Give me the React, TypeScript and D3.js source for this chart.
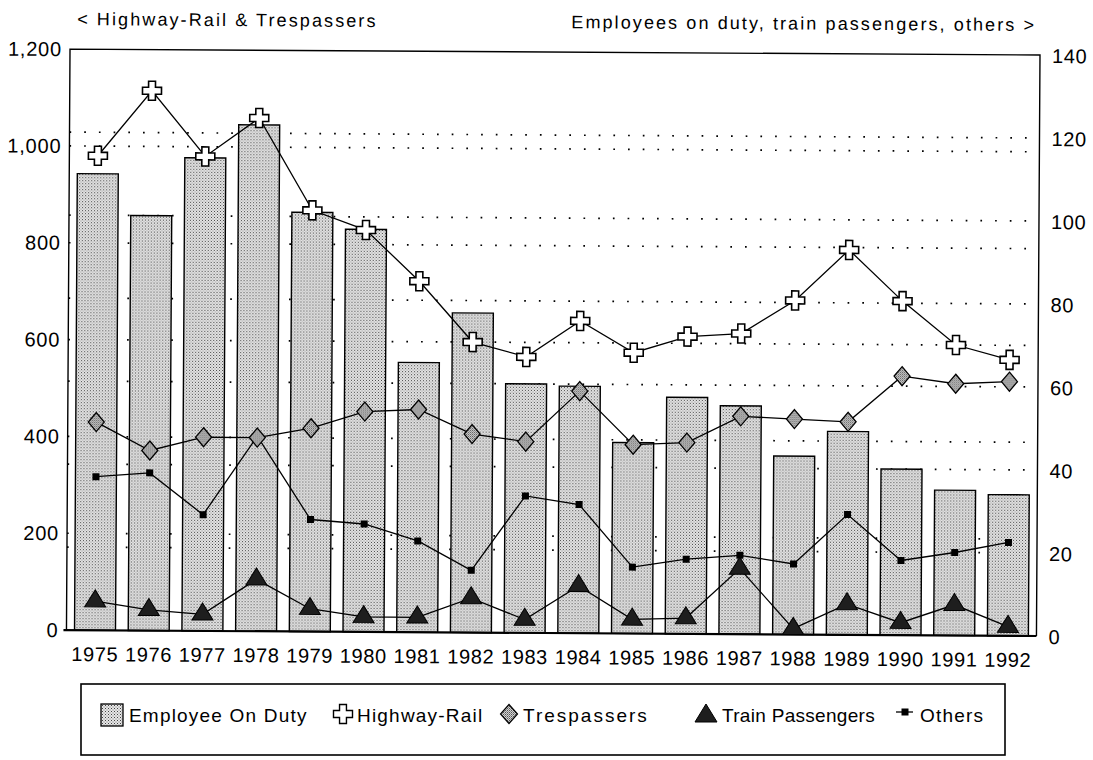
import * as d3 from "d3";

const years = ["1975", "1976", "1977", "1978", "1979", "1980", "1981", "1982", "1983", "1984", "1985", "1986", "1987", "1988", "1989", "1990", "1991", "1992"];
const employeeOnDuty = [110, 100, 114, 122, 101, 97, 65, 77, 60, 59.5, 46, 57, 55, 43, 49, 40, 35, 34];
const highwayRail = [980, 1115, 980, 1060, 870, 830, 725, 600, 570, 645, 580, 614, 621, 690, 795, 690, 600, 570];
const trespassers = [430, 372, 400, 400, 420, 455, 460, 410, 395, 500, 390, 395, 450, 445, 440, 535, 520, 525];
const trainPassengers = [7, 5, 4, 12.5, 5.5, 3.6, 3.6, 8.3, 3.2, 11.4, 3.4, 3.8, 15.8, 1.4, 7.4, 3, 7.4, 2.2];
const others = [37, 38, 28, 47, 27, 26, 22, 15, 33, 31, 16, 18, 19, 17, 29, 18, 20, 22.5];
const leftTicks = [0, 200, 400, 600, 800, 1000, 1200];
const rightTicks = [0, 20, 40, 60, 80, 100, 120, 140];

const FONT = "'Liberation Sans', Arial, sans-serif";
const left = 68, right = 1038, top = 52, bottom = 633;

const crossPath = (s: number) => {
  const a = s / 2, b = s / 5.5;
  return `M${-b},${-a}H${b}V${-b}H${a}V${b}H${b}V${a}H${-b}V${b}H${-a}V${-b}H${-b}Z`;
};
const diamondPath = (w: number, h: number) => `M0,${-h / 2}L${w / 2},0L0,${h / 2}L${-w / 2},0Z`;
const trianglePath = (w: number, h: number) => `M0,${(-2 * h) / 3}L${w / 2},${h / 3}L${-w / 2},${h / 3}Z`;

export default function App() {
  const x = d3.scaleBand<string>().domain(years).range([left, right]).paddingInner(0.237).paddingOuter(0.15);
  const yL = d3.scaleLinear().domain([0, 1200]).range([bottom, top]);
  const yR = d3.scaleLinear().domain([0, 140]).range([bottom, top]);
  const cx = (d: string) => (x(d) ?? 0) + x.bandwidth() / 2;

  const lineL = d3.line<number>().x((_, i) => cx(years[i])).y((d) => yL(d));
  const lineR = d3.line<number>().x((_, i) => cx(years[i])).y((d) => yR(d));

  const gridL = leftTicks.filter((t) => t > 0 && t < 1200);
  const gridR = rightTicks.filter((t) => t > 0 && t < 140);

  return (
    <svg width={1093} height={760} style={{ display: "block", position: "absolute", left: 0, top: 0, background: "#fff" }} fontFamily={FONT}>
      <defs>
        <pattern id="stip" width="3" height="3" patternUnits="userSpaceOnUse">
          <rect width="3" height="3" fill="#e6e6e6" />
          <rect x="0" y="0" width="1" height="1" fill="#444" />
          <rect x="1.5" y="1.5" width="1" height="1" fill="#777" />
        </pattern>
        <pattern id="stipDark" width="2" height="2" patternUnits="userSpaceOnUse">
          <rect width="2" height="2" fill="#d2d2d2" />
          <rect x="0" y="0" width="1" height="1" fill="#555" />
          <rect x="1" y="1" width="1" height="1" fill="#888" />
        </pattern>
      </defs>

      <g transform="rotate(0.35 546 380)">
        {/* titles */}
        <text x={75} y={28} fontSize={18} letterSpacing={2.1}>{"< Highway-Rail & Trespassers"}</text>
        <text x={1034} y={28} fontSize={18} letterSpacing={2.1} textAnchor="end">{"Employees on duty, train passengers, others >"}</text>

        {/* grid */}
        {gridL.map((t) => (
          <line key={"gl" + t} x1={left} x2={right} y1={yL(t)} y2={yL(t)} stroke="#000" strokeWidth={1.7} strokeDasharray="1.7,13" />
        ))}
        {gridR.map((t) => (
          <line key={"gr" + t} x1={left} x2={right} y1={yR(t)} y2={yR(t)} stroke="#000" strokeWidth={1.7} strokeDasharray="1.7,13" />
        ))}

        {/* bars */}
        {employeeOnDuty.map((v, i) => (
          <rect key={"b" + i} x={x(years[i])} y={yR(v)} width={x.bandwidth()} height={bottom - yR(v)} fill="url(#stip)" stroke="#000" strokeWidth={1.4} />
        ))}

        {/* frame */}
        <path d={`M${left},${bottom}V${top}H${right}V${bottom}`} fill="none" stroke="#000" strokeWidth={1.4} />
        <line x1={left - 3} x2={right} y1={bottom} y2={bottom} stroke="#000" strokeWidth={2.2} />

        {/* others */}
        <path d={lineR(others) ?? ""} fill="none" stroke="#000" strokeWidth={1.3} />
        {others.map((v, i) => (
          <rect key={"o" + i} x={cx(years[i]) - 3.5} y={yR(v) - 3.5} width={7} height={7} fill="#000" />
        ))}

        {/* train passengers */}
        <path d={lineR(trainPassengers) ?? ""} fill="none" stroke="#000" strokeWidth={1.3} />
        {trainPassengers.map((v, i) => (
          <path key={"t" + i} d={trianglePath(21, 17)} transform={`translate(${cx(years[i])},${yR(v)})`} fill="#1e1e1e" stroke="#000" strokeWidth={1} />
        ))}

        {/* trespassers */}
        <path d={lineL(trespassers) ?? ""} fill="none" stroke="#000" strokeWidth={1.3} />
        {trespassers.map((v, i) => (
          <path key={"d" + i} d={diamondPath(16, 19)} transform={`translate(${cx(years[i])},${yL(v)})`} fill="url(#stipDark)" stroke="#000" strokeWidth={1.3} />
        ))}

        {/* highway-rail */}
        <path d={lineL(highwayRail) ?? ""} fill="none" stroke="#000" strokeWidth={1.3} />
        {highwayRail.map((v, i) => (
          <path key={"h" + i} d={crossPath(19)} transform={`translate(${cx(years[i])},${yL(v)})`} fill="#fff" stroke="#000" strokeWidth={1.6} />
        ))}

        {/* left axis */}
        {leftTicks.map((t) => (
          <text key={"lt" + t} x={60} y={yL(t)} dy="0.35em" fontSize={20} letterSpacing={0.8} textAnchor="end">
            {d3.format(",")(t)}
          </text>
        ))}
        {/* right axis */}
        {rightTicks.map((t) => (
          <text key={"rt" + t} x={1050} y={yR(t)} dy="0.4em" fontSize={20} letterSpacing={0.6}>
            {t}
          </text>
        ))}
        {/* x labels */}
        {years.map((d) => (
          <text key={"x" + d} x={cx(d)} y={664} fontSize={20} letterSpacing={0.6} textAnchor="middle">
            {d}
          </text>
        ))}
      </g>

      {/* legend */}
      <rect x={81} y={684} width={924} height={71} fill="none" stroke="#000" strokeWidth={1.6} />
      <g fontSize={19} letterSpacing={1.2}>
        <rect x={101} y={704} width={22} height={22} fill="url(#stip)" stroke="#000" strokeWidth={1.3} />
        <text x={129} y={722}>Employee On Duty</text>
        <path d={crossPath(19)} transform="translate(343,714)" fill="#fff" stroke="#000" strokeWidth={1.4} />
        <text x={357} y={722}>Highway-Rail</text>
        <path d={diamondPath(17, 19)} transform="translate(509,714)" fill="url(#stipDark)" stroke="#000" strokeWidth={1.2} />
        <text x={523} y={722} letterSpacing={2}>Trespassers</text>
        <path d={trianglePath(22, 18)} transform="translate(706,716)" fill="#1e1e1e" stroke="#000" strokeWidth={1} />
        <text x={722} y={722} letterSpacing={0.3}>Train Passengers</text>
        <line x1={896} x2={913} y1={712} y2={712} stroke="#000" strokeWidth={1.3} />
        <rect x={901.5} y={708.5} width={7} height={7} fill="#000" />
        <text x={920} y={722}>Others</text>
      </g>
    </svg>
  );
}
